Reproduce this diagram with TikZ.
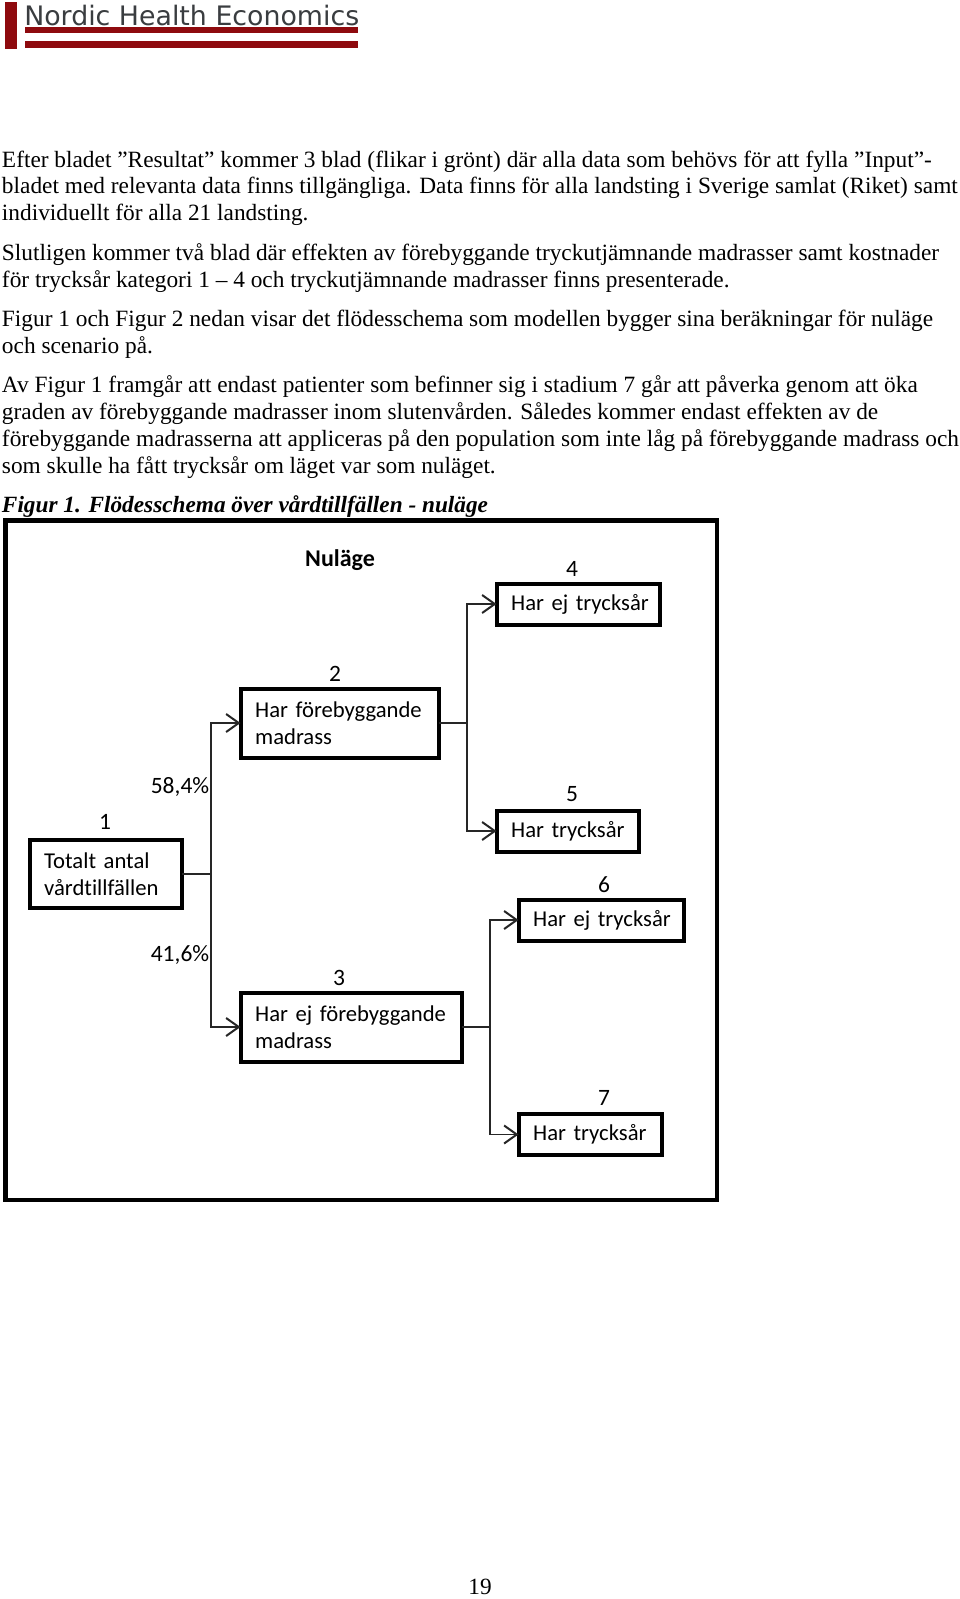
\documentclass[tikz,border=0pt]{standalone}
\usepackage{fontspec}
\setmainfont{Liberation Serif}
\newfontfamily\boxfont[Ligatures=NoCommon,WordSpace=0.8]{Carlito}
\newfontfamily\logofont{DejaVu Sans}
\usetikzlibrary{arrows.meta}
\definecolor{logored}{HTML}{8E0A0E}
\definecolor{logogray}{HTML}{3A3D40}
\newcommand\bl[1]{\mbox{#1}}
\tikzset{
  x=0.75pt,y=-0.75pt,
  bodyline/.style={anchor=base west,inner sep=0pt,outer sep=0pt,font=\fontsize{17.5}{20}\selectfont},
  capline/.style={bodyline,font=\fontsize{17.45}{20}\selectfont\bfseries\itshape},
  flowbox/.style n args={2}{draw=black,line width=3pt,inner xsep=11pt,inner ysep=0pt,outer sep=0pt,
     minimum width=#1*0.75pt,minimum height=#2*0.75pt,text width=#1*0.75pt-22pt,align=left,
     font=\boxfont\fontsize{17}{20.6}\selectfont},
  numlabel/.style={anchor=base,inner sep=0pt,font=\boxfont\fontsize{17.6}{20.6}\selectfont},
  conn/.style={draw=black!85,line width=1.35pt},
  arrowconn/.style={conn,-{Straight Barb[length=9.5pt,width=13.5pt,line width=1.5pt]}},
}
\begin{document}
\begin{tikzpicture}
\useasboundingbox[fill=white] (0,0) rectangle (960,1599);
% logo
\fill[logored] (5,2) rectangle (17,49);
\fill[logored] (25,27) rectangle (358,33);
\fill[logored] (25,41) rectangle (358,48);
\node[anchor=base west,inner sep=0pt,text=logogray,font=\logofont\fontsize{20.1}{24}\selectfont] (logo) at (24,25) {Nordic Health Economics};
% body
\node[bodyline] (l1) at (2,167.5) {Efter bladet ”Resultat” kommer 3 blad (flikar i grönt) där alla data som behövs för att fylla ”Input”-};
\node[bodyline] (l2) at (2,193.5) {bladet med relevanta data finns tillgängliga. Data finns för alla landsting i Sverige samlat (Riket) samt};
\node[bodyline] (l3) at (2,220.5) {individuellt för alla 21 landsting.};
\node[bodyline] (l4) at (2,260.5) {Slutligen kommer två blad där effekten av förebyggande tryckutjämnande madrasser samt kostnader};
\node[bodyline] (l5) at (2,287.5) {för trycksår kategori 1 – 4 och tryckutjämnande madrasser finns presenterade.};
\node[bodyline] (l6) at (2,326.5) {Figur 1 och Figur 2 nedan visar det flödesschema som modellen bygger sina beräkningar för nuläge};
\node[bodyline] (l7) at (2,353.5) {och scenario på.};
\node[bodyline] (l8) at (2,392.5) {Av Figur 1 framgår att endast patienter som befinner sig i stadium 7 går att påverka genom att öka};
\node[bodyline] (l9) at (2,419.5) {graden av förebyggande madrasser inom slutenvården. Således kommer endast effekten av de};
\node[bodyline] (l10) at (2,446) {förebyggande madrasserna att appliceras på den population som inte låg på förebyggande madrass och};
\node[bodyline] (l11) at (2,473) {som skulle ha fått trycksår om läget var som nuläget.};
\node[capline] (cap) at (2,512) {Figur 1. Flödesschema över vårdtillfällen - nuläge};
% frame
\draw[line width=3.2pt,black] (5.5,520.5) rectangle (717,1200);
% boxes
\node[flowbox={152}{67.5}] (b1) at (105.5,874) {\bl{Totalt antal}\\\bl{vårdtillfällen}};
\node[flowbox={198}{69}] (b2) at (339.5,723) {\bl{Har förebyggande}\\\bl{madrass}};
\node[flowbox={221}{69}] (b3) at (351,1027) {\bl{Har ej förebyggande}\\\bl{madrass}};
\node[flowbox={163}{41}] (b4) at (578,604) {\bl{Har ej trycksår}};
\node[flowbox={142}{41}] (b5) at (567.5,831) {\bl{Har trycksår}};
\node[flowbox={165}{41}] (b6) at (601,920) {\bl{Har ej trycksår}};
\node[flowbox={143}{41}] (b7) at (590,1134.5) {\bl{Har trycksår}};
% labels
\node[anchor=base,inner sep=0pt,font=\boxfont\bfseries\fontsize{18}{22}\selectfont] (title) at (340,566) {Nuläge};
\node[numlabel] (n1) at (105,829) {1};
\node[numlabel] (n2) at (335,681) {2};
\node[numlabel] (n3) at (339,985) {3};
\node[numlabel] (n4) at (572,576) {4};
\node[numlabel] (n5) at (572,801) {5};
\node[numlabel] (n6) at (604,892) {6};
\node[numlabel] (n7) at (604,1105) {7};
\node[numlabel] (p1) at (180,793) {58,4\%};
\node[numlabel] (p2) at (180,961) {41,6\%};
\node[anchor=base,inner sep=0pt,font=\fontsize{17.45}{20}\selectfont] (page) at (480,1594) {19};
% connectors
\coordinate (j1) at (211,874);
\coordinate (j2) at (467,723);
\coordinate (j3) at (490,1027);
\draw[conn] (b1.east) -- (j1);
\draw[arrowconn] (j1) |- (b2.west);
\draw[arrowconn] (j1) |- (b3.west);
\draw[conn] (b2.east) -- (j2);
\draw[arrowconn] (j2) |- (b4.west);
\draw[arrowconn] (j2) |- (b5.west);
\draw[conn] (b3.east) -- (j3);
\draw[arrowconn] (j3) |- (b6.west);
\draw[arrowconn] (j3) |- (b7.west);
\end{tikzpicture}
\end{document}
